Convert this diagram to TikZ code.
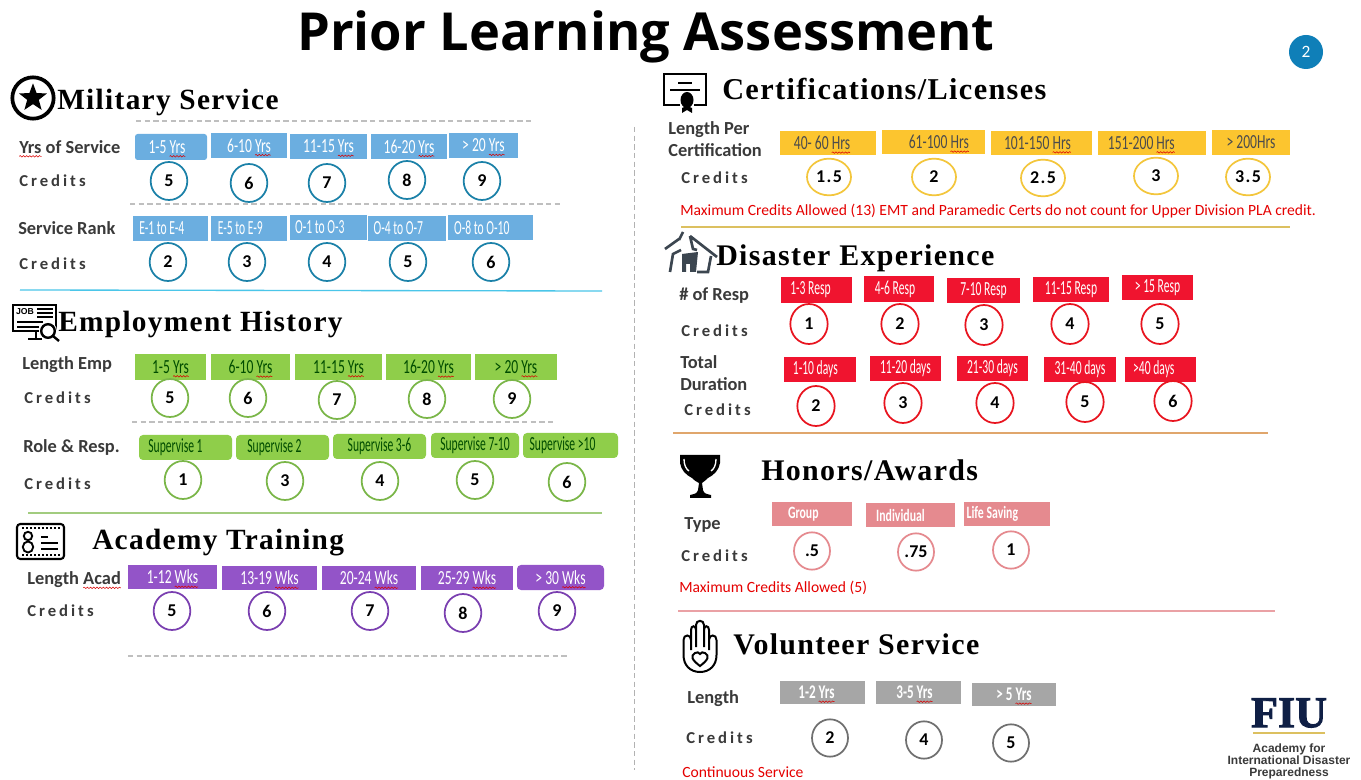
\documentclass[tikz,border=0pt]{standalone}
\usepackage{fontspec}
\usetikzlibrary{shapes.geometric,decorations.pathmorphing}
\setmainfont{Carlito}
\newfontfamily\titlef{Open Sans}
\newfontfamily\headf[LetterSpace=4.5]{Liberation Serif}
\newfontfamily\credf[LetterSpace=18]{Carlito}
\newfontfamily\yelf[LetterSpace=8]{Carlito}
\newfontfamily\boxf[FakeStretch=0.68]{Carlito}
\newfontfamily\boxn[FakeStretch=0.58]{Carlito}
\newfontfamily\logof{Liberation Sans}
\newfontfamily\logos[FakeBold=2]{Liberation Serif}
\definecolor{cblue}{HTML}{6BAEE0}
\definecolor{lblue}{HTML}{1B81A8}
\definecolor{cgreen}{HTML}{8FCE4A}
\definecolor{lgreen}{HTML}{7AB648}
\definecolor{cpurple}{HTML}{9354C8}
\definecolor{lpurple}{HTML}{7A3FB0}
\definecolor{cyellow}{HTML}{FCC52F}
\definecolor{lyellow}{HTML}{F3C63C}
\definecolor{cred}{HTML}{F0142F}
\definecolor{lred}{HTML}{E8141F}
\definecolor{cpink}{HTML}{E58A8F}
\definecolor{cgray}{HTML}{A6A6A6}
\definecolor{lgray}{HTML}{707070}
\definecolor{labc}{HTML}{3A3A3A}
\definecolor{navy}{HTML}{0F1F45}
\definecolor{gold}{HTML}{DCC060}
\definecolor{badge}{HTML}{0F7FB8}
\definecolor{housec}{HTML}{3C4650}
\newlength\sqw
\newcommand\sq[1]{\settowidth\sqw{#1}\leavevmode\tikz[baseline=0pt,overlay]\draw[sharp corners,red!85!black,line width=.4pt,decorate,decoration={snake,amplitude=.55pt,segment length=2.4pt}] (0pt,-2.2pt)--(\sqw,-2.2pt);#1}
\newcommand\pd[1]{\hspace*{#1pt}}
\tikzset{
 basebox/.style={rectangle,inner sep=0pt,font=\boxf\fontsize{15}{15}\selectfont},
 nar/.style={font=\boxn\fontsize{15}{15}\selectfont},
 bluebox/.style={basebox,fill=cblue,text=white},
 greenbox/.style={basebox,fill=cgreen,text=black!70!green},
 greenround/.style={greenbox,rounded corners=3pt,nar},
 purplebox/.style={basebox,fill=cpurple,text=white},
 yellowbox/.style={basebox,fill=cyellow,text=black!70},
 redbox/.style={basebox,fill=cred,text=white,nar},
 pinkbox/.style={basebox,fill=cpink,text=white,font=\boxf\bfseries\fontsize{13}{13}\selectfont},
 graybox/.style={basebox,fill=cgray,text=white,font=\boxf\bfseries\fontsize{14.5}{15}\selectfont},
 basecirc/.style={ellipse,draw,line width=1.3pt,inner sep=0pt,minimum width=27.5pt,minimum height=28.5pt,text=black,font=\bfseries\fontsize{13.5}{14}\selectfont},
 bluecirc/.style={basecirc,draw=lblue},
 greencirc/.style={basecirc,draw=lgreen},
 purplecirc/.style={basecirc,draw=lpurple},
 yellowcirc/.style={basecirc,draw=lyellow,minimum width=33pt,minimum height=27.5pt,font=\yelf\bfseries\fontsize{13.5}{14}\selectfont},
 redcirc/.style={basecirc,draw=lred,minimum width=28pt,minimum height=30pt},
 pinkcirc/.style={basecirc,draw=cpink,minimum width=27pt,minimum height=28pt},
 graycirc/.style={basecirc,draw=lgray,minimum width=27pt,minimum height=28pt},
 lab/.style={anchor=west,inner sep=0pt,text=labc,align=left,font=\bfseries\fontsize{13.8}{16.5}\selectfont},
 cred lab/.style={anchor=west,inner sep=0pt,text=labc,font=\credf\bfseries\fontsize{12.5}{14}\selectfont},
 head/.style={anchor=west,inner sep=0pt,text=black,font=\headf\bfseries\fontsize{22}{24}\selectfont},
 headr/.style={head,font=\headf\bfseries\fontsize{22.45}{24}\selectfont},
 note/.style={anchor=west,inner sep=0pt,text=red!90!black,font=\fontsize{11.7}{13}\selectfont},
 dash line/.style={draw=black!25,dashed,line width=.9pt,dash pattern=on 4pt off 2.5pt},
 rule/.style={line width=1pt},
 icon/.style={draw=black,line width=1.6pt,fill=none},
}
\newcommand\mkbox[7]{\pgfmathsetmacro\bw{(#6-#4)*0.75}\pgfmathsetmacro\bh{(#7-#5)*0.75}\node[#1,minimum width=\bw pt,minimum height=\bh pt] (#2) at ({(#4+#6)/2},{(#5+#7)/2}) {#3};}
\newcommand\yrs{\sq{Yrs}}
\newcommand\wks{\sq{Wks}}
\newcommand\hrs{\sq{Hrs}}
\begin{document}
\begin{tikzpicture}[x=0.75pt,y=-0.75pt]
\useasboundingbox (0,0) rectangle (1361,780);
\fill[white] (0,0) rectangle (1361,780);
% title and badge
\node[inner sep=0pt,font=\titlef\bfseries\fontsize{39.3}{44}\selectfont] (title) at (646,37) {Prior Learning Assessment};
\node[circle,fill=badge,text=white,minimum size=25.5pt,inner sep=0pt,font=\fontsize{13}{14}\selectfont] (badge) at (1306,52) {2};
% vertical divider
\draw[dash line,line width=.6pt,draw=black!30] (634,127)--(634,770);
%%% MILITARY
\node[circle,draw=black,line width=2.8pt,minimum size=31pt,inner sep=0pt] (milring) at (33,98) {};
\node[star,star points=5,star point ratio=2.4,fill=black,inner sep=0pt,minimum size=22pt] (milstar) at (33,98) {};
\node[head] (milh) at (57,102) {Military Service};
\draw[dash line] (136,121)--(534,121);
\node[lab] (m1) at (19,147) {\sq{Yrs} of Service};
\mkbox{bluebox,rounded corners=2pt}{mb1}{1-5 \yrs\pd{6}}{135}{134}{207}{160}
\mkbox{bluebox}{mb2}{6-10 \yrs}{211}{133}{287}{158}
\mkbox{bluebox}{mb3}{11-15 \yrs}{290}{134}{367}{159}
\mkbox{bluebox}{mb4}{16-20 \yrs}{371}{134}{447}{159}
\mkbox{bluebox}{mb5}{> 20 \yrs}{449}{133}{518}{158}
\node[cred lab] (m2) at (19,181) {Credits};
\node[bluecirc] (mc1) at (169,181) {5};
\node[bluecirc] (mc2) at (249,183) {6};
\node[bluecirc] (mc3) at (327,183) {7};
\node[bluecirc] (mc4) at (407,180) {8};
\node[bluecirc] (mc5) at (482,181) {9};
\draw[dash line] (130,204)--(560,204);
\node[lab] (m3) at (18,228) {Service Rank};
\mkbox{bluebox,nar}{mr1}{E-1 to E-4\pd{13}}{133}{216}{208}{241}
\mkbox{bluebox,nar}{mr2}{E-5 to E-9\pd{13}}{211}{216}{287}{241}
\mkbox{bluebox,nar}{mr3}{O-1 to O-3\pd{13}}{290}{215}{367}{240}
\mkbox{bluebox,nar}{mr4}{O-4 to O-7\pd{13}}{368}{216}{446}{241}
\mkbox{bluebox,nar}{mr5}{O-8 to O-10\pd{13}}{448}{215}{533}{240}
\node[cred lab] (m4) at (19,264) {Credits};
\node[bluecirc] (mq1) at (168,262) {2};
\node[bluecirc] (mq2) at (247,262) {3};
\node[bluecirc] (mq3) at (327,262) {4};
\node[bluecirc] (mq4) at (408,262) {5};
\node[bluecirc] (mq5) at (491,262) {6};
\draw[rule,draw=cblue!70!cyan] (20,290)--(602,291);
%%% EMPLOYMENT
\draw[icon] (13,305) rectangle (56,331);
\node[inner sep=0pt,font=\logof\bfseries\fontsize{6.5}{6.5}\selectfont] (jobt) at (25,312) {JOB};
\draw[line width=1.3pt] (37,309)--(53,309) (37,313)--(53,313) (37,317)--(53,317) (17,322)--(43,322) (17,327)--(39,327);
\fill[white] (48,331) circle (9);
\draw[line width=1.8pt] (48,331) circle (6.8) (53,336)--(59,341);
\draw[line width=2pt] (36,331)--(36,338) (28,339)--(42,339);
\node[head] (emph) at (58,324) {Employment History};
\node[lab] (e1) at (22,365) {Length Emp};
\mkbox{greenbox}{eb1}{1-5 \yrs}{135}{354}{206}{380}
\mkbox{greenbox}{eb2}{6-10 \yrs}{211}{354}{290}{380}
\mkbox{greenbox}{eb3}{11-15 \yrs}{295}{354}{382}{380}
\mkbox{greenbox}{eb4}{16-20 \yrs}{386}{354}{471}{380}
\mkbox{greenbox}{eb5}{> 20 \yrs}{475}{354}{557}{380}
\node[cred lab] (e2) at (24,398) {Credits};
\node[greencirc] (ec1) at (170,398) {5};
\node[greencirc] (ec2) at (248,398) {6};
\node[greencirc] (ec3) at (337,400) {7};
\node[greencirc] (ec4) at (427,399) {8};
\node[greencirc] (ec5) at (512,399) {9};
\draw[dash line] (132,422)--(555,422);
\node[lab] (e3) at (23,447) {Role \& Resp.};
\mkbox{greenround}{er1}{Supervise 1\pd{15}}{139}{435}{232}{460}
\mkbox{greenround}{er2}{Supervise 2\pd{12}}{236}{435}{329}{460}
\mkbox{greenround}{er3}{Supervise 3-6}{333}{434}{426}{459}
\mkbox{greenround}{er4}{Supervise 7-10}{431}{433}{519}{458}
\mkbox{greenround}{er5}{Supervise >10\pd{12}}{523}{433}{618}{458}
\node[cred lab] (e4) at (24,484) {Credits};
\node[greencirc] (eq1) at (183,480) {1};
\node[greencirc] (eq2) at (285,481) {3};
\node[greencirc] (eq3) at (380,481) {4};
\node[greencirc] (eq4) at (475,480) {5};
\node[greencirc] (eq5) at (567,482) {6};
\draw[rule,draw=lgreen!70] (28,513)--(602,513);
%%% ACADEMY
\draw[icon,rounded corners=2.5pt] (17,524) rectangle (64,559);
\draw[line width=1.2pt,dash pattern=on 1.6pt off 1.4pt] (22,528)--(60,528) (22,555)--(60,555);
\draw[line width=1.4pt] (28,536) circle (4.2) (28,547) ellipse (5.2 and 5.5);
\draw[line width=1.4pt] (41,537)--(48,537) (41,543)--(58,543) (41,549)--(58,549);
\node[head] (acah) at (92,543) {Academy Training};
\node[lab] (a1) at (27,580) {Length \sq{Acad}};
\mkbox{purplebox}{ab1}{1-12 \wks}{128}{565}{217}{589}
\mkbox{purplebox}{ab2}{13-19 \wks}{222}{566}{317}{590}
\mkbox{purplebox}{ab3}{20-24 \wks}{322}{566}{416}{590}
\mkbox{purplebox}{ab4}{25-29 \wks}{421}{566}{513}{590}
\mkbox{purplebox,rounded corners=3pt}{ab5}{> 30 \wks}{517}{565}{604}{590}
\node[cred lab] (a2) at (27,611) {Credits};
\node[purplecirc] (ac1) at (172,611) {5};
\node[purplecirc] (ac2) at (267,611) {6};
\node[purplecirc] (ac3) at (370,611) {7};
\node[purplecirc] (ac4) at (463,613) {8};
\node[purplecirc] (ac5) at (557,611) {9};
\draw[dash line] (128,656)--(567,656);
%%% CERTIFICATIONS
\draw[line width=2.2pt] (680,105)--(664,105)--(664,74)--(706,74)--(706,105)--(694,105);
\draw[line width=1.4pt] (678,83)--(692,83) (670,90)--(700,90);
\fill[black] (687,100) ellipse (6.5 and 8);
\fill[black] (682,108)--(687,106)--(692,108)--(692,113)--(687,110)--(682,113)--cycle;
\node[head,font=\headf\bfseries\fontsize{22.7}{24}\selectfont] (certh) at (722,89) {Certifications/Licenses};
\node[lab] (c1) at (668,139) {Length Per\\Certification};
\mkbox{yellowbox}{cb1}{40- 60 \hrs\pd{9}}{780}{131}{876}{155}
\mkbox{yellowbox}{cb2}{\pd{8}61-100 \hrs}{882}{130}{985}{154}
\mkbox{yellowbox}{cb3}{101-150 \hrs\pd{6}}{991}{131}{1092}{155}
\mkbox{yellowbox}{cb4}{151-200 \hrs\pd{16}}{1098}{131}{1206}{155}
\mkbox{yellowbox}{cb5}{> 200Hrs}{1212}{130}{1290}{155}
\node[cred lab] (c2) at (681,178) {Credits};
\node[yellowcirc] (cc1) at (829,177) {1.5};
\node[yellowcirc] (cc2) at (934,177) {2};
\node[yellowcirc] (cc3) at (1043,178) {2.5};
\node[yellowcirc] (cc4) at (1156,176) {3};
\node[yellowcirc] (cc5) at (1248,177) {3.5};
\node[note] (c3) at (680,211) {Maximum Credits Allowed (13) EMT and Paramedic Certs do not count for Upper Division PLA credit.};
\draw[rule,draw=gold] (681,227)--(1290,227);
%%% DISASTER
\draw[line width=2pt,draw=housec] (665,249)--(679,239) (679,240)--(683,232) (690,236)--(717,257) (690,236)--(693,249)--(697,250);
\draw[line width=2pt,draw=housec] (670,272)--(673,254)--(681,250) (711,256)--(708,272)--(697,272);
\fill[housec] (682,254)--(698,252)--(696,272)--(690,272)--(690,264)--(686,264)--(686,272)--(682,272)--cycle;
\node[headr] (disah) at (716,258) {Disaster Experience};
\node[lab] (d1) at (679,296) {\# of Resp};
\mkbox{redbox}{db1}{1-3 Resp\pd{9}}{781}{277}{852}{303}
\mkbox{redbox}{db2}{4-6 Resp\pd{6}}{864}{276}{934}{302}
\mkbox{redbox}{db3}{7-10 Resp}{947}{278}{1020}{303}
\mkbox{redbox}{db4}{11-15 Resp}{1033}{277}{1109}{302}
\mkbox{redbox}{db5}{> 15 Resp}{1122}{275}{1193}{300}
\node[cred lab] (d2) at (681,331) {Credits};
\node[redcirc] (dc1) at (809,324) {1};
\node[redcirc] (dc2) at (900,324) {2};
\node[redcirc] (dc3) at (984,325) {3};
\node[redcirc] (dc4) at (1070,324) {4};
\node[redcirc] (dc5) at (1160,324) {5};
\node[lab] (d3) at (680,373) {Total\\Duration};
\mkbox{redbox}{dr1}{1-10 days\pd{7}}{784}{357}{856}{382}
\mkbox{redbox}{dr2}{11-20 days}{870}{356}{941}{381}
\mkbox{redbox}{dr3}{21-30 days}{957}{356}{1028}{381}
\mkbox{redbox}{dr4}{31-40 days}{1044}{357}{1116}{382}
\mkbox{redbox}{dr5}{>40 days\pd{10}}{1125}{357}{1196}{382}
\node[cred lab] (d4) at (684,410) {Credits};
\node[redcirc] (dq1) at (816,406) {2};
\node[redcirc] (dq2) at (903,403) {3};
\node[redcirc] (dq3) at (995,403) {4};
\node[redcirc] (dq4) at (1085,402) {5};
\node[redcirc] (dq5) at (1173,401) {6};
\draw[rule,draw=brown!70!orange!70] (673,433)--(1268,433);
%%% HONORS
\fill[black] (680,455)--(720,455)--(720,463)..controls (719,470) and (714,475) ..(708,478)..controls (705,481) and (703,482) ..(702,483)--(703,490)..controls (704,494) and (707,494) ..(711,495)--(711,498)--(690,498)--(690,495)..controls (694,494) and (697,494) ..(698,490)--(699,483)..controls (697,482) and (695,481) ..(692,478)..controls (686,475) and (681,470) ..(680,463)--cycle;
\draw[white,line width=1pt] (684,459)..controls (684,465) and (686,469) ..(689,471) (716,459)..controls (716,465) and (714,469) ..(711,471);
\node[headr] (honh) at (761,470) {Honors/Awards};
\node[lab] (h1) at (684,525) {Type};
\mkbox{pinkbox}{hb1}{Group\pd{13}}{772}{502}{852}{526}
\mkbox{pinkbox}{hb2}{Individual\pd{15}}{866}{503}{955}{527}
\mkbox{pinkbox}{hb3}{Life Saving\pd{22}}{964}{502}{1050}{526}
\node[cred lab] (h2) at (681,556) {Credits};
\node[pinkcirc] (hc1) at (812,551) {.5};
\node[pinkcirc] (hc2) at (916,552) {.75};
\node[pinkcirc] (hc3) at (1011,550) {1};
\node[note] (h3) at (679,588) {Maximum Credits Allowed (5)};
\draw[rule,draw=cpink!80] (678,611)--(1275,611);
%%% VOLUNTEER
\draw[line width=1.5pt] (683.5,640)--(683.5,655)..controls (683.5,665) and (690,672) ..(700,672)..controls (710,672) and (716.5,665) ..(716.5,655)--(716.5,640)
 (683.5,640)..controls (683.5,634) and (691,634) ..(691,640)--(691,650)
 (691,640)--(691,630)..controls (691,625) and (696,625) ..(696,630)--(696,647)
 (696,630)--(696,625)..controls (696,619.5) and (704,619.5) ..(704,625)--(704,647)
 (704,630)..controls (704,625) and (709,625) ..(709,630)--(709,650)
 (709,640)..controls (709,634) and (716.5,634) ..(716.5,640);
\draw[line width=1.5pt] (700,666)..controls (692,660) and (690,656) .. (695,653)..controls (697,652) and (699,652) .. (700,654)..controls (701,652) and (703,652) .. (705,653)..controls (710,656) and (708,660) .. (700,666)--cycle;
\node[headr] (volh) at (733,644) {Volunteer Service};
\node[lab] (v1) at (687,699) {Length};
\mkbox{graybox}{vb1}{1-2 \yrs\pd{9}}{780}{681}{865}{704}
\mkbox{graybox}{vb2}{3-5 \yrs\pd{6}}{876}{681}{961}{704}
\mkbox{graybox}{vb3}{> 5 \yrs}{972}{683}{1056}{706}
\node[cred lab] (v2) at (686,738) {Credits};
\node[graycirc] (vc1) at (830,738) {2};
\node[graycirc] (vc2) at (924,740) {4};
\node[graycirc] (vc3) at (1011,743) {5};
\node[note] (v3) at (682,772) {Continuous Service};
%%% LOGO
\node[inner sep=0pt,text=navy,font=\logos\bfseries\fontsize{33}{34}\selectfont] (fiu) at (1289,713) {FIU};
\draw[line width=1pt,draw=gold] (1253,733)--(1325,733);
\node[inner sep=0pt,text=labc,align=center,font=\logof\bfseries\fontsize{9}{9}\selectfont] (acad) at (1289,761) {Academy for\\International Disaster\\Preparedness};
\end{tikzpicture}
\end{document}
